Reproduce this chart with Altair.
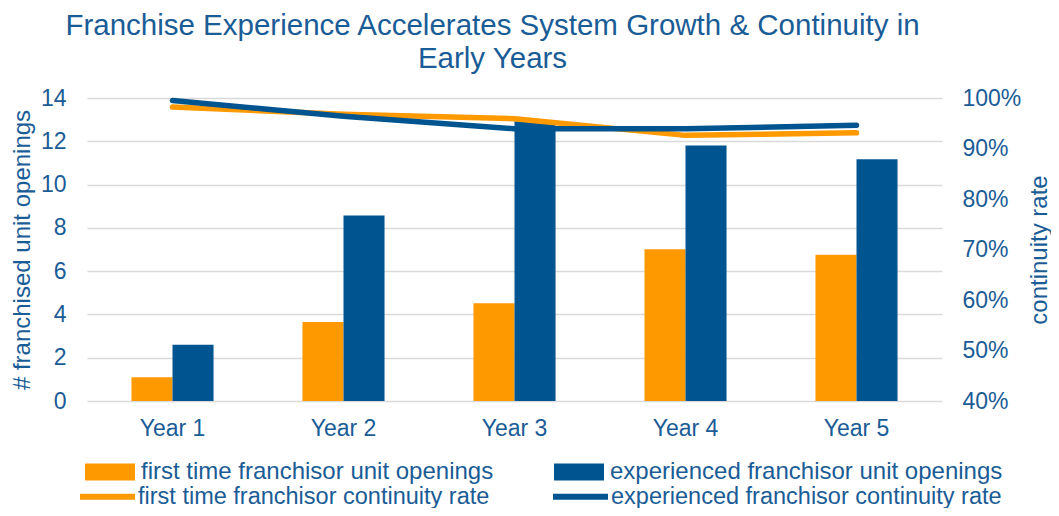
import altair as alt
import pandas as pd

years = ["Year 1", "Year 2", "Year 3", "Year 4", "Year 5"]
bar_series = ["first time franchisor unit openings", "experienced franchisor unit openings"]
line_series = ["first time franchisor continuity rate", "experienced franchisor continuity rate"]
ft_openings = [1.1, 3.65, 4.52, 7.01, 6.76]
exp_openings = [2.6, 8.57, 12.92, 11.8, 11.17]
ft_rate = [0.982, 0.968, 0.959, 0.926, 0.931]
exp_rate = [0.995, 0.964, 0.939, 0.939, 0.946]

ORANGE = "#FF9900"
BLUE = "#00548F"
TEXT = "#1A5C96"
FONT = "Liberation Sans"

bar_df = pd.DataFrame(
    [{"year": y, "series": bar_series[0], "value": v} for y, v in zip(years, ft_openings)]
    + [{"year": y, "series": bar_series[1], "value": v} for y, v in zip(years, exp_openings)]
)
line_df = pd.DataFrame(
    [{"year": y, "series": line_series[0], "rate": v, "o": 0} for y, v in zip(years, ft_rate)]
    + [{"year": y, "series": line_series[1], "rate": v, "o": 1} for y, v in zip(years, exp_rate)]
)

x_enc = alt.X(
    "year:N",
    sort=years,
    scale=alt.Scale(paddingInner=0.52, paddingOuter=0.26),
    axis=alt.Axis(
        title=None, labelAngle=0, domain=False, ticks=False, labelPadding=16,
        labelFontSize=23, labelColor=TEXT, labelFont=FONT, grid=False,
    ),
)

bars = alt.Chart(bar_df).mark_bar().encode(
    x=x_enc,
    xOffset=alt.XOffset("series:N", sort=bar_series, scale=alt.Scale(paddingInner=0, paddingOuter=0)),
    y=alt.Y(
        "value:Q",
        scale=alt.Scale(domain=[0, 14], nice=False, zero=True),
        axis=alt.Axis(
            title="# franchised unit openings", values=[0, 2, 4, 6, 8, 10, 12, 14],
            domain=False, ticks=False, labelPadding=21, labelFontSize=23,
            labelColor=TEXT, labelFont=FONT, titleFontSize=24, titleColor=TEXT,
            titleFont=FONT, titleFontWeight="normal", titlePadding=6,
            grid=True, gridColor="#D9D9D9", gridWidth=1.6,
        ),
    ),
    fill=alt.Fill(
        "series:N",
        scale=alt.Scale(domain=bar_series, range=[ORANGE, BLUE]),
        legend=alt.Legend(
            title=None, orient="none", legendX=-2, legendY=349, direction="horizontal",
            columns=2, columnPadding=60, symbolType="M-1,-0.34H1V0.34H-1Z", symbolSize=2500,
            symbolStrokeWidth=0, labelFontSize=24, labelColor=TEXT, labelFont=FONT,
            labelOffset=6, labelLimit=600,
        ),
    ),
)

lines = alt.Chart(line_df).mark_line(strokeWidth=5.5, strokeCap="round", strokeJoin="round").encode(
    x=x_enc,
    y=alt.Y(
        "rate:Q",
        scale=alt.Scale(domain=[0.4, 1.0], nice=False, zero=False),
        axis=alt.Axis(
            title="continuity rate", orient="right", values=[0.4, 0.5, 0.6, 0.7, 0.8, 0.9, 1.0],
            format=".0%", domain=False, ticks=False, labelPadding=20, labelFontSize=23,
            labelColor=TEXT, labelFont=FONT, titleFontSize=24, titleColor=TEXT,
            titleFont=FONT, titleFontWeight="normal", titlePadding=31, titleAngle=270,
            grid=False,
        ),
    ),
    stroke=alt.Stroke(
        "series:N",
        scale=alt.Scale(domain=line_series, range=[ORANGE, BLUE]),
        legend=alt.Legend(
            title=None, orient="none", legendX=-10, legendY=368, direction="horizontal",
            columns=2, columnPadding=51, symbolType="stroke", symbolSize=3025,
            symbolStrokeWidth=6, labelFontSize=23.5, labelColor=TEXT, labelFont=FONT,
            labelOffset=0, labelLimit=600,
        ),
    ),
    order=alt.Order("o:Q"),
    detail="series:N",
)

chart = (
    alt.layer(bars, lines)
    .resolve_scale(y="independent", fill="independent", stroke="independent")
    .properties(
        width=855,
        height=303,
        padding={"left": 79, "top": 90, "right": 109, "bottom": 107},
        autosize=alt.AutoSizeParams(type="none"),
        title=alt.TitleParams(
            text=["Franchise Experience Accelerates System Growth & Continuity in", "Early Years"],
            fontSize=29.5, font=FONT, color=TEXT, fontWeight="normal", anchor="middle",
            dx=-22, offset=13, lineHeight=33,
        ),
    )
    .configure_view(stroke=None)
)

chart.save("out.html", embed_options={"renderer": "svg", "actions": False})
